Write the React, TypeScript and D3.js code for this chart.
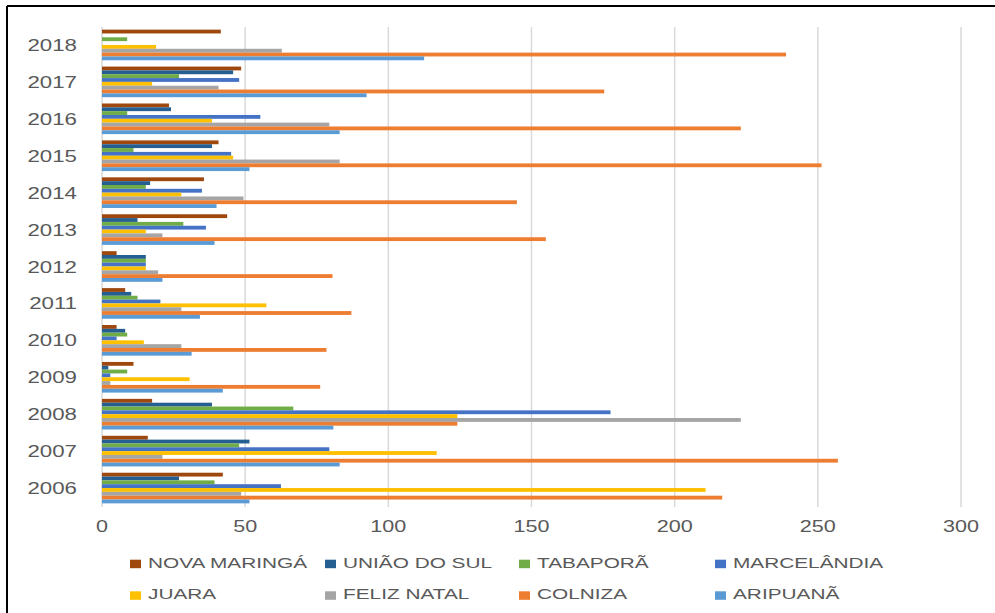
import React, { useEffect, useRef } from 'react';
import * as d3 from 'd3';

// years, bottom (2006) to top (2018)
const years = ['2006', '2007', '2008', '2009', '2010', '2011', '2012', '2013', '2014', '2015', '2016', '2017', '2018'];
const seriesNames = ['NOVA MARINGÁ', 'UNIÃO DO SUL', 'TABAPORÃ', 'MARCELÂNDIA', 'JUARA', 'FELIZ NATAL', 'COLNIZA', 'ARIPUANÃ'];
const seriesColors = ['#9E480E', '#255E91', '#70AD47', '#4472C4', '#FFC000', '#A5A5A5', '#ED7D31', '#5B9BD5'];
const xTicks = [0, 50, 100, 150, 200, 250, 300];

// values per municipality, same order as years
const novaMaringa = [42.2, 16.0, 17.5, 11.0, 5.1, 8.1, 5.1, 43.7, 35.6, 40.7, 23.4, 48.6, 41.5];
const uniaoDoSul = [26.9, 51.5, 38.4, 2.2, 8.1, 10.2, 15.3, 12.4, 16.8, 38.4, 24.1, 45.8, 0];
const tabapora = [39.3, 47.9, 66.8, 8.8, 8.8, 12.4, 15.3, 28.4, 15.3, 11.0, 8.8, 26.9, 8.8];
const marcelandia = [62.5, 79.4, 177.6, 2.9, 5.1, 20.4, 15.3, 36.3, 34.9, 45.1, 55.3, 47.9, 0];
const juara = [210.8, 116.9, 124.1, 30.6, 14.6, 57.4, 15.3, 15.3, 27.7, 45.8, 38.4, 17.5, 18.9];
const felizNatal = [48.6, 21.1, 223.1, 2.9, 27.7, 27.7, 19.6, 21.1, 49.4, 83.0, 79.4, 40.7, 62.8];
const colniza = [216.6, 257.0, 124.1, 76.2, 78.4, 87.1, 80.5, 155.0, 144.9, 251.3, 223.1, 175.4, 238.9];
const aripuana = [51.5, 83.0, 80.8, 42.2, 31.3, 34.2, 21.1, 39.3, 40.0, 51.5, 83.0, 92.4, 112.5];

const seriesValues = [novaMaringa, uniaoDoSul, tabapora, marcelandia, juara, felizNatal, colniza, aripuana];

const App: React.FC = () => {
  const svgRef = useRef<SVGSVGElement>(null);

  useEffect(() => {
    if (!svgRef.current) return;
    const svg = d3.select(svgRef.current);
    svg.selectAll('*').remove();

    const width = 995;
    const height = 613;
    const textColor = '#595959';
    const font = '"Liberation Sans", Arial, sans-serif';
    const stretch = 1.31; // original text is horizontally stretched

    svg.attr('width', width).attr('height', height);
    svg.append('rect').attr('width', width).attr('height', height).attr('fill', '#fff');

    // frame (top + left only)
    svg.append('line').attr('x1', 7).attr('x2', width).attr('y1', 6).attr('y2', 6).attr('stroke', '#000').attr('stroke-width', 2);
    svg.append('line').attr('x1', 7).attr('x2', 7).attr('y1', 6).attr('y2', height).attr('stroke', '#000').attr('stroke-width', 2);

    const x = d3.scaleLinear().domain([0, 300]).range([102, 961]);
    const y = d3.scaleBand().domain([...years].reverse()).range([26.5, 506.5]).paddingInner(0.17).paddingOuter(0.085);
    const inner = d3.scaleBand().domain(seriesNames).range([0, y.bandwidth()]);

    // gridlines
    svg.append('g').selectAll('line').data(xTicks).enter().append('line')
      .attr('x1', d => x(d)).attr('x2', d => x(d))
      .attr('y1', 27).attr('y2', 507)
      .attr('stroke', '#d9d9d9').attr('stroke-width', 1.5);

    // bars
    seriesNames.forEach((name, si) => {
      svg.append('g').selectAll('rect').data(years).enter().append('rect')
        .attr('x', x(0))
        .attr('y', d => (y(d) || 0) + (inner(name) || 0))
        .attr('width', (d, i) => x(seriesValues[si][i]) - x(0))
        .attr('height', inner.bandwidth())
        .attr('fill', seriesColors[si]);
    });

    // year labels
    svg.append('g').selectAll('text').data(years).enter().append('text')
      .attr('transform', d => `translate(77,${(y(d) || 0) + y.bandwidth() / 2 + 6}) scale(${stretch},1)`)
      .attr('text-anchor', 'end')
      .style('font-family', font).style('font-size', '17px').style('fill', textColor)
      .text(d => d);

    // x tick labels
    svg.append('g').selectAll('text').data(xTicks).enter().append('text')
      .attr('transform', d => `translate(${x(d)},531.5) scale(${stretch},1)`)
      .attr('text-anchor', 'middle')
      .style('font-family', font).style('font-size', '16.5px').style('fill', textColor)
      .text(d => d);

    // legend
    const legendX = [130, 325, 519, 715];
    const legendY = [567.7, 599.3];
    seriesNames.forEach((name, i) => {
      const col = i % 4;
      const row = Math.floor(i / 4);
      const g = svg.append('g');
      g.append('rect').attr('x', legendX[col]).attr('y', legendY[row] - 8).attr('width', 11).attr('height', 8.5).attr('fill', seriesColors[i]);
      g.append('text')
        .attr('transform', `translate(${legendX[col] + 18},${legendY[row]}) scale(1.36,1)`)
        .style('font-family', font).style('font-size', '15.3px').style('fill', textColor)
        .text(name);
    });
  }, []);

  return <svg ref={svgRef} style={{ position: 'absolute', left: 0, top: 0, display: 'block' }}></svg>;
};

export default App;
